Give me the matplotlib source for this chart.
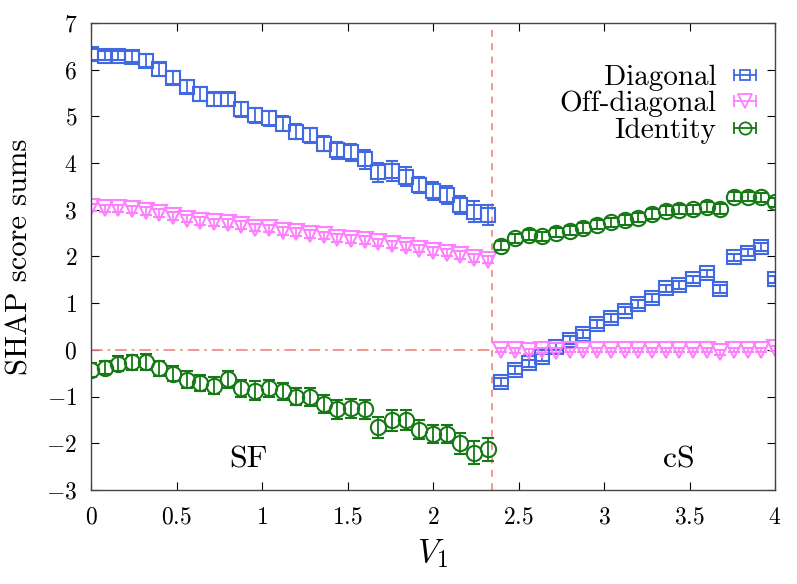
import numpy as np
import matplotlib
matplotlib.use("Agg")
import matplotlib.pyplot as plt
from matplotlib.lines import Line2D

plt.rcParams['font.family'] = ['cmr10', 'DejaVu Serif']
plt.rcParams['mathtext.fontset'] = 'cm'
plt.rcParams['axes.formatter.use_mathtext'] = True

# data: V1 grid, 0 .. 4 in steps of 0.08
v1 = np.round(np.arange(51) * 0.08, 2)

diag = [6.33, 6.30, 6.30, 6.28, 6.19, 6.01, 5.83, 5.64, 5.48, 5.37,
        5.37, 5.15, 5.02, 4.96, 4.84, 4.67, 4.60, 4.41, 4.27, 4.23,
        4.08, 3.80, 3.83, 3.71, 3.53, 3.40, 3.32, 3.10, 2.96, 2.89,
        -0.69, -0.43, -0.29, -0.16, 0.07, 0.21, 0.34, 0.55, 0.68, 0.84,
        0.98, 1.11, 1.32, 1.39, 1.51, 1.64, 1.30, 1.98, 2.08, 2.20, 1.51]
diag_err = [0.12, 0.10, 0.10, 0.12, 0.14, 0.14, 0.14, 0.14, 0.14, 0.14,
            0.14, 0.16, 0.16, 0.16, 0.16, 0.16, 0.16, 0.16, 0.18, 0.18,
            0.20, 0.20, 0.22, 0.20, 0.18, 0.20, 0.20, 0.20, 0.22, 0.22,
            0.08, 0.08, 0.08, 0.08, 0.08, 0.08, 0.08, 0.08, 0.08, 0.08,
            0.08, 0.08, 0.08, 0.08, 0.08, 0.08, 0.08, 0.08, 0.08, 0.08, 0.08]

offd = [3.05, 3.03, 3.03, 3.01, 2.97, 2.93, 2.87, 2.81, 2.76, 2.73,
        2.72, 2.67, 2.62, 2.60, 2.55, 2.52, 2.48, 2.45, 2.40, 2.37,
        2.35, 2.30, 2.26, 2.22, 2.17, 2.12, 2.08, 2.03, 1.97, 1.93,
        0.00, -0.01, -0.03, -0.01, -0.02, 0.00, 0.00, 0.00, 0.00, 0.00,
        0.00, 0.00, 0.00, 0.00, 0.00, 0.00, -0.05, 0.00, 0.00, 0.00, 0.03]
offd_err = [0.08] * 30 + [0.05] * 21

ident = [-0.43, -0.38, -0.30, -0.27, -0.26, -0.39, -0.51, -0.64, -0.71, -0.77,
         -0.63, -0.82, -0.87, -0.82, -0.89, -1.00, -1.01, -1.16, -1.27, -1.25,
         -1.27, -1.66, -1.51, -1.50, -1.71, -1.80, -1.80, -2.00, -2.20, -2.13,
         2.23, 2.39, 2.46, 2.43, 2.51, 2.55, 2.61, 2.68, 2.73, 2.78,
         2.83, 2.91, 2.98, 3.00, 3.01, 3.06, 3.02, 3.28, 3.28, 3.27, 3.16]
ident_err = [0.14, 0.14, 0.16, 0.16, 0.18, 0.16, 0.16, 0.18, 0.18, 0.18,
             0.18, 0.18, 0.20, 0.18, 0.18, 0.18, 0.20, 0.20, 0.20, 0.20,
             0.20, 0.22, 0.22, 0.22, 0.20, 0.20, 0.20, 0.22, 0.24, 0.24,
             0.10, 0.10, 0.10, 0.10, 0.10, 0.10, 0.10, 0.10, 0.10, 0.10,
             0.10, 0.10, 0.10, 0.10, 0.10, 0.10, 0.10, 0.10, 0.10, 0.10, 0.10]

x_ticks = [0, 0.5, 1, 1.5, 2, 2.5, 3, 3.5, 4]
x_labels = ['0', '0.5', '1', '1.5', '2', '2.5', '3', '3.5', '4']
y_ticks = [-3, -2, -1, 0, 1, 2, 3, 4, 5, 6, 7]
v_trans = 2.345

c_diag = '#4169e1'
c_offd = '#ff80ff'
c_ident = '#157a15'
c_line = '#f4847a'


class HorizErrHandler:
    # gnuplot-like key sample: horizontal bar with end caps, marker in middle
    def legend_artist(self, legend, orig, fontsize, handlebox):
        ln = orig[0]
        x0, y0 = handlebox.xdescent, handlebox.ydescent
        w, h = handlebox.width, handlebox.height
        ym = y0 + h / 2
        tr = handlebox.get_transform()
        col = ln.get_color()
        bar = Line2D([x0, x0 + w], [ym, ym], color=col, lw=1.3, transform=tr)
        caps = Line2D([x0, x0 + w], [ym, ym], ls='none', marker='|', ms=8,
                      mew=1.3, color=col, transform=tr)
        mk = Line2D([x0 + w / 2], [ym], ls='none', marker=ln.get_marker(),
                    ms=ln.get_markersize() * 0.8, mfc='none', mec=col,
                    mew=1.3, transform=tr)
        for a in (bar, caps, mk):
            handlebox.add_artist(a)
        return mk


fig = plt.figure(figsize=(7.97, 5.84), dpi=100)
ax = fig.add_axes([0.1142, 0.161, 0.8582, 0.7996])

ax.plot([0, v_trans], [0, 0], color=c_line, lw=1.2, dashes=(7, 3, 1.5, 3))
ax.axvline(v_trans, color=c_line, lw=1.2, dashes=(4, 4))

common = dict(ls='none', elinewidth=1.3, capsize=4, capthick=1.3,
              markerfacecolor='none', markeredgewidth=1.5)
e1 = ax.errorbar(v1, diag, yerr=diag_err, marker='s', ms=9.5, color=c_diag,
                 label='Diagonal', **common)
e2 = ax.errorbar(v1, offd, yerr=offd_err, marker='v', ms=12, color=c_offd,
                 label='Off-diagonal', **common)
e3 = ax.errorbar(v1, ident, yerr=ident_err, marker='o', ms=11, color=c_ident,
                 label='Identity', **common)

ax.text(0.92, -2.35, 'SF', fontsize=23, ha='center', va='center')
ax.text(3.44, -2.35, 'cS', fontsize=23, ha='center', va='center')

ax.set_xlim(0, 4)
ax.set_ylim(-3, 7)
ax.set_xticks(x_ticks)
ax.set_xticklabels(['$%s$' % s for s in x_labels])
ax.set_yticks(y_ticks)
ax.set_yticklabels(['$%d$' % v for v in y_ticks])
ax.tick_params(direction='in', top=True, right=True, length=6, width=0.8,
               labelsize=17)
ax.tick_params(axis='x', pad=12)
ax.tick_params(axis='y', pad=10)
for s in ax.spines.values():
    s.set_linewidth(1.0)
    s.set_color('#444444')

ax.set_xlabel('$V_1$', fontsize=24, labelpad=6)
ax.set_ylabel('SHAP score sums', fontsize=22, labelpad=9)

h = HorizErrHandler()
ax.legend(loc='upper right', bbox_to_anchor=(0.972, 0.911), frameon=False,
          markerfirst=False, fontsize=21, handlelength=0.75, handletextpad=0.6,
          labelspacing=0.0, borderaxespad=0.0, borderpad=0.0,
          handler_map={e1: h, e2: h, e3: h})

fig.savefig('out.png', dpi=100)
